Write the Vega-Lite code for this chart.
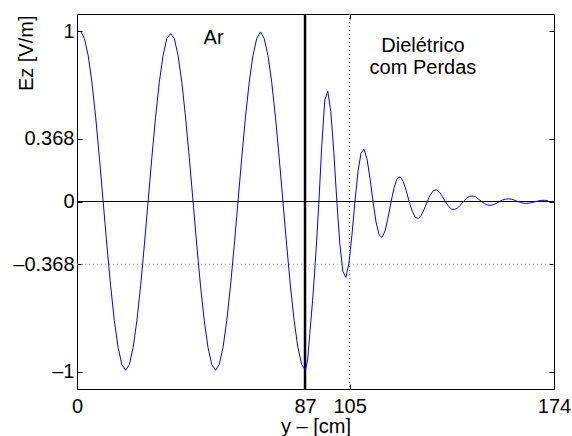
{
  "$schema": "https://vega.github.io/schema/vega-lite/v6.json",
  "width": 477,
  "height": 375,
  "autosize": {"type": "none"},
  "padding": {"left": 77, "top": 14, "right": 18, "bottom": 47},
  "background": "white",
  "config": {
    "view": {"stroke": "#000", "strokeWidth": 1},
    "font": "Liberation Sans",
    "axis": {
      "labelFont": "Liberation Sans", "titleFont": "Liberation Sans",
      "labelFontSize": 20, "titleFontSize": 20,
      "labelColor": "#000", "titleColor": "#000", "tickColor": "#000",
      "grid": false, "domain": false, "tickSize": -5, "tickWidth": 1,
      "labelFontWeight": "normal", "titleFontWeight": "normal"
    }
  },
  "resolve": {"axis": {"x": "independent", "y": "independent"}},
  "layer": [
    {
      "data": {"values": [{}]},
      "mark": {"type": "rule", "color": "#999999", "strokeWidth": 1, "strokeDash": [1, 3]},
      "encoding": {
        "y": {"datum": -0.368, "type": "quantitative",
              "scale": {"domain": [-1.1, 1.1], "nice": false, "zero": false},
              "axis": {"orient": "right", "values": [-1, -0.368, 0, 0.368, 1], "labels": false, "title": null}}
      }
    },
    {
      "data": {"values": [{}]},
      "mark": {"type": "rule", "color": "#777777", "strokeWidth": 1, "strokeDash": [1, 3]},
      "encoding": {
        "x": {"datum": 104, "type": "quantitative",
              "scale": {"domain": [0, 182], "nice": false, "zero": false},
              "axis": {"orient": "top", "values": [87, 104], "labels": false, "title": null}}
      }
    },
    {
      "data": {"values": [{}]},
      "mark": {"type": "rule", "color": "#000", "strokeWidth": 1},
      "encoding": {
        "y": {"datum": 0, "type": "quantitative",
              "scale": {"domain": [-1.1, 1.1], "nice": false, "zero": false}, "axis": null}
      }
    },
    {
      "data": {"values": [{}]},
      "mark": {"type": "rule", "color": "#000", "strokeWidth": 2.5},
      "encoding": {
        "x": {"datum": 87, "type": "quantitative",
              "scale": {"domain": [0, 182], "nice": false, "zero": false}, "axis": null}
      }
    },
    {
      "data": {"values": [
        {"y": 1.40, "ez": 1.0}, {"y": 2.83, "ez": 0.956}, {"y": 4.26, "ez": 0.857}, {"y": 5.69, "ez": 0.700},
        {"y": 7.12, "ez": 0.495}, {"y": 8.55, "ez": 0.256}, {"y": 9.98, "ez": 0}, {"y": 11.40, "ez": -0.256},
        {"y": 12.83, "ez": -0.495}, {"y": 14.26, "ez": -0.700}, {"y": 15.69, "ez": -0.857}, {"y": 17.12, "ez": -0.956},
        {"y": 18.55, "ez": -0.99}, {"y": 19.98, "ez": -0.956}, {"y": 21.41, "ez": -0.857}, {"y": 22.84, "ez": -0.700},
        {"y": 24.27, "ez": -0.495}, {"y": 25.70, "ez": -0.256}, {"y": 27.13, "ez": 0}, {"y": 28.55, "ez": 0.256},
        {"y": 29.98, "ez": 0.495}, {"y": 31.41, "ez": 0.700}, {"y": 32.84, "ez": 0.857}, {"y": 34.27, "ez": 0.956},
        {"y": 35.70, "ez": 0.985}, {"y": 37.13, "ez": 0.956}, {"y": 38.56, "ez": 0.857}, {"y": 39.99, "ez": 0.700},
        {"y": 41.42, "ez": 0.495}, {"y": 42.85, "ez": 0.256}, {"y": 44.28, "ez": 0}, {"y": 45.70, "ez": -0.256},
        {"y": 47.13, "ez": -0.495}, {"y": 48.56, "ez": -0.700}, {"y": 49.99, "ez": -0.857}, {"y": 51.42, "ez": -0.956},
        {"y": 52.85, "ez": -0.99}, {"y": 54.28, "ez": -0.956}, {"y": 55.71, "ez": -0.857}, {"y": 57.14, "ez": -0.700},
        {"y": 58.57, "ez": -0.495}, {"y": 60.00, "ez": -0.256}, {"y": 61.43, "ez": 0}, {"y": 62.85, "ez": 0.256},
        {"y": 64.28, "ez": 0.495}, {"y": 65.71, "ez": 0.700}, {"y": 67.14, "ez": 0.857}, {"y": 68.57, "ez": 0.956},
        {"y": 70.00, "ez": 0.995}, {"y": 71.43, "ez": 0.956}, {"y": 72.86, "ez": 0.857}, {"y": 74.29, "ez": 0.700},
        {"y": 75.72, "ez": 0.495}, {"y": 77.15, "ez": 0.256}, {"y": 78.58, "ez": 0}, {"y": 80.00, "ez": -0.256},
        {"y": 81.43, "ez": -0.495}, {"y": 82.86, "ez": -0.700}, {"y": 84.29, "ez": -0.857}, {"y": 85.72, "ez": -0.956},
        {"y": 87.15, "ez": -0.99}, {"y": 88.0, "ez": -0.93}, {"y": 88.8, "ez": -0.78}, {"y": 89.9, "ez": -0.58},
        {"y": 90.8, "ez": -0.385}, {"y": 91.6, "ez": -0.19}, {"y": 92.3, "ez": 0}, {"y": 93.4, "ez": 0.33},
        {"y": 94.55, "ez": 0.596}, {"y": 95.70, "ez": 0.647}, {"y": 96.85, "ez": 0.526}, {"y": 98.00, "ez": 0.286},
        {"y": 99.15, "ez": 0}, {"y": 100.30, "ez": -0.252}, {"y": 101.45, "ez": -0.410}, {"y": 102.60, "ez": -0.445},
        {"y": 103.75, "ez": -0.362}, {"y": 104.90, "ez": -0.197}, {"y": 106.05, "ez": 0}, {"y": 107.20, "ez": 0.174},
        {"y": 108.35, "ez": 0.283}, {"y": 109.50, "ez": 0.307}, {"y": 110.65, "ez": 0.250}, {"y": 111.80, "ez": 0.135},
        {"y": 112.95, "ez": 0}, {"y": 114.10, "ez": -0.120}, {"y": 115.25, "ez": -0.195}, {"y": 116.40, "ez": -0.211},
        {"y": 117.55, "ez": -0.172}, {"y": 118.70, "ez": -0.093}, {"y": 119.85, "ez": 0}, {"y": 121.00, "ez": 0.082},
        {"y": 122.15, "ez": 0.134}, {"y": 123.30, "ez": 0.145}, {"y": 124.45, "ez": 0.118}, {"y": 125.60, "ez": 0.064},
        {"y": 126.75, "ez": 0}, {"y": 127.90, "ez": -0.057}, {"y": 129.05, "ez": -0.092}, {"y": 130.20, "ez": -0.100},
        {"y": 131.35, "ez": -0.081}, {"y": 132.50, "ez": -0.044}, {"y": 133.65, "ez": 0}, {"y": 134.80, "ez": 0.039},
        {"y": 135.95, "ez": 0.064}, {"y": 137.10, "ez": 0.069}, {"y": 138.25, "ez": 0.056}, {"y": 139.40, "ez": 0.030},
        {"y": 140.55, "ez": 0}, {"y": 141.70, "ez": -0.027}, {"y": 142.85, "ez": -0.044}, {"y": 144.00, "ez": -0.047},
        {"y": 145.15, "ez": -0.039}, {"y": 146.30, "ez": -0.021}, {"y": 147.45, "ez": 0}, {"y": 148.60, "ez": 0.019},
        {"y": 149.75, "ez": 0.030}, {"y": 150.90, "ez": 0.033}, {"y": 152.05, "ez": 0.027}, {"y": 153.20, "ez": 0.014},
        {"y": 154.35, "ez": 0}, {"y": 155.50, "ez": -0.013}, {"y": 156.65, "ez": -0.021}, {"y": 157.80, "ez": -0.023},
        {"y": 158.95, "ez": -0.018}, {"y": 160.10, "ez": -0.010}, {"y": 161.25, "ez": 0}, {"y": 162.40, "ez": 0.009},
        {"y": 163.55, "ez": 0.014}, {"y": 164.70, "ez": 0.016}, {"y": 165.85, "ez": 0.013}, {"y": 167.00, "ez": 0.007},
        {"y": 168.15, "ez": 0}, {"y": 169.30, "ez": -0.006}, {"y": 170.45, "ez": -0.010}, {"y": 171.60, "ez": -0.011},
        {"y": 172.75, "ez": -0.009}, {"y": 173.90, "ez": -0.005}, {"y": 175.05, "ez": 0}, {"y": 176.20, "ez": 0.004},
        {"y": 177.35, "ez": 0.007}, {"y": 178.50, "ez": 0.007}, {"y": 179.65, "ez": 0.006}
      ]},
      "mark": {"type": "line", "color": "#0000ff", "strokeWidth": 1, "interpolate": "linear"},
      "encoding": {
        "x": {"field": "y", "type": "quantitative",
              "scale": {"domain": [0, 182], "nice": false, "zero": false},
              "axis": {"orient": "bottom", "values": [0, 87, 104, 182],
                       "labelExpr": "datum.value == 104 ? '105' : datum.value == 182 ? '174' : datum.label",
                       "format": "d", "labelFlush": false, "labelPadding": 12,
                       "title": "y – [cm]", "titleY": 43, "titleBaseline": "alphabetic"}},
        "y": {"field": "ez", "type": "quantitative",
              "scale": {"domain": [-1.1, 1.1], "nice": false, "zero": false},
              "axis": {"orient": "left", "values": [-1, -0.368, 0, 0.368, 1], "format": ".3~f",
                       "labelExpr": "datum.value < 0 ? '–' + format(-datum.value, '.3~f') : format(datum.value, '.3~f')",
                       "labelPadding": 8, "title": "Ez [V/m]", "titleAngle": 270,
                       "titleX": -45, "titleY": 1, "titleAlign": "right", "titleBaseline": "alphabetic"}}
      }
    },
    {
      "data": {"values": [{}]},
      "mark": {"type": "text", "text": "Ar", "font": "Liberation Sans", "fontSize": 20, "align": "center", "baseline": "middle", "color": "#000"},
      "encoding": {
        "x": {"datum": 52.1, "type": "quantitative", "scale": {"domain": [0, 182], "nice": false, "zero": false}, "axis": null},
        "y": {"datum": 0.962, "type": "quantitative", "scale": {"domain": [-1.1, 1.1], "nice": false, "zero": false}, "axis": null}
      }
    },
    {
      "data": {"values": [{}]},
      "mark": {"type": "text", "text": ["Dielétrico", "com Perdas"], "lineHeight": 22, "font": "Liberation Sans", "fontSize": 20, "align": "center", "baseline": "middle", "color": "#000"},
      "encoding": {
        "x": {"datum": 132.0, "type": "quantitative", "scale": {"domain": [0, 182], "nice": false, "zero": false}, "axis": null},
        "y": {"datum": 0.915, "type": "quantitative", "scale": {"domain": [-1.1, 1.1], "nice": false, "zero": false}, "axis": null}
      }
    }
  ]
}
